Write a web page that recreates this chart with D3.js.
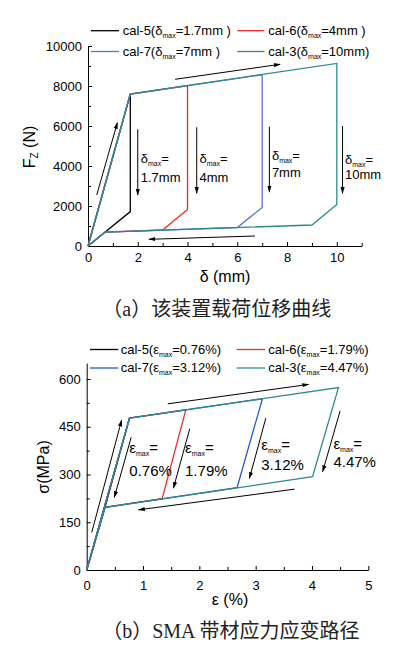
<!DOCTYPE html>
<html>
<head>
<meta charset="utf-8">
<script src="https://cdn.jsdelivr.net/npm/d3@7"></script>
<style>
body { margin: 0; background: #fff; }
svg { display: block; font-family: "Liberation Sans", Arial, sans-serif; }
</style>
</head>
<body>
<div id="chart"></div>
<script>
// ---------- data ----------
var seriesNames = ["cal-5", "cal-6", "cal-7", "cal-3"];
var topColors = ["#000000", "#ee2a2a", "#5577c6", "#2e8a8a"];
var botColors = ["#000000", "#ee2a2a", "#2a55c4", "#2e8a8a"];

// (a) load vs displacement : [delta (mm), Fz (N)]
var topCal5 = [[0, 0], [1.7, 7600], [1.7, 1720], [0.68, 690], [0, 0]];
var topCal6 = [[0, 0], [1.7, 7600], [4, 8020], [4, 1830], [3.0, 800], [0.68, 690], [0, 0]];
var topCal7 = [[0, 0], [1.7, 7600], [7, 8560], [7, 1930], [6.0, 925], [0.68, 690], [0, 0]];
var topCal3 = [[0, 0], [1.7, 7600], [10, 9130], [10, 2080], [9.0, 1050], [0.68, 690], [0, 0]];
var topLegendTail = ["=1.7mm )", "=4mm )", "=7mm )", "=10mm)"];
var topNoteValues = ["1.7mm", "4mm", "7mm", "10mm"];

// (b) SMA stress vs strain : [strain (%), stress (MPa)]
var botCal5 = [[0, 0], [0.76, 477], [0.325, 197], [0, 0]];
var botCal6 = [[0, 0], [0.76, 477], [1.76, 503], [1.34, 224], [0.325, 197], [0, 0]];
var botCal7 = [[0, 0], [0.76, 477], [3.12, 538], [2.67, 259], [0.325, 197], [0, 0]];
var botCal3 = [[0, 0], [0.76, 477], [4.47, 573], [4.01, 293], [0.325, 197], [0, 0]];
var botLegendTail = ["=0.76%)", "=1.79%)", "=3.12%)", "=4.47%)"];
var botNoteValues = ["0.76%", "1.79%", "3.12%", "4.47%"];

// ticks
var topXTicks = [0, 2, 4, 6, 8, 10], topXMinor = [1, 3, 5, 7, 9, 11];
var topYTicks = [0, 2000, 4000, 6000, 8000, 10000], topYMinor = [1000, 3000, 5000, 7000, 9000];
var botXTicks = [0, 1, 2, 3, 4, 5], botXMinor = [0.5, 1.5, 2.5, 3.5, 4.5];
var botYTicks = [0, 150, 300, 450, 600], botYMinor = [75, 225, 375, 525];

// annotation arrows [x1, y1, x2, y2] in data units, and note anchors [x, ySymbol, yValue]
var topArrows = [[0.35, 2550, 1.18, 6165], [3.5, 8335, 7.72, 9085], [6.71, 500, 2.45, 335],
  [2.0, 5835, 2.0, 2550], [4.37, 5935, 4.37, 2635], [7.29, 5965, 7.29, 2700], [10.23, 6000, 10.23, 2635]];
var topNoteAnchors = [[2.12, 4165, 3215], [4.48, 4165, 3215], [7.39, 4300, 3465], [10.33, 4100, 3335]];
var botArrows = [[0.09, 118, 0.62, 471], [0.79, 417, 0.49, 228], [1.83, 444, 1.54, 257],
  [3.18, 477, 2.89, 288], [4.50, 500, 4.19, 309], [1.44, 522, 3.94, 583], [3.69, 254, 0.92, 189]];
var botNoteAnchors = [[0.757, 366, 296], [1.746, 366, 296], [3.10, 377, 314], [4.38, 380, 324]];

// ---------- drawing ----------
var svg = d3.select("#chart").append("svg")
  .attr("width", 415)
  .attr("height", 653);

svg.append("defs").append("marker")
  .attr("id", "ah")
  .attr("viewBox", "0 0 10 10")
  .attr("refX", 9).attr("refY", 5)
  .attr("markerWidth", 7).attr("markerHeight", 7)
  .attr("orient", "auto")
  .append("path")
  .attr("d", "M0,2L10,5L0,8z")
  .attr("fill", "#000");

// text with a small "max" subscript
function subText(sel, pre, sub, post, size, subSize, shift) {
  sel.append("tspan").text(pre).style("font-size", size + "px");
  sel.append("tspan").text(sub).style("font-size", subSize + "px").attr("dy", shift);
  sel.append("tspan").text(post).style("font-size", size + "px").attr("dy", -shift);
}

function drawPanel(cfg) {
  var x = d3.scaleLinear().domain(cfg.xDomain).range(cfg.xRange);
  var y = d3.scaleLinear().domain(cfg.yDomain).range(cfg.yRange);
  var g = svg.append("g");
  var fmt = d3.format("d");

  // axes (ticks point inward, Origin style)
  var xMin = g.append("g").attr("transform", "translate(0," + cfg.yRange[0] + ")")
    .call(d3.axisBottom(x).tickValues(cfg.xMinor).tickSizeInner(-3).tickSizeOuter(0).tickFormat(""));
  var yMin = g.append("g").attr("transform", "translate(" + cfg.xRange[0] + ",0)")
    .call(d3.axisLeft(y).tickValues(cfg.yMinor).tickSizeInner(-3).tickSizeOuter(0).tickFormat(""));
  xMin.select(".domain").remove();
  yMin.select(".domain").remove();

  var xAx = g.append("g").attr("transform", "translate(0," + cfg.yRange[0] + ")")
    .call(d3.axisBottom(x).tickValues(cfg.xTicks).tickFormat(fmt)
      .tickSizeInner(-4).tickSizeOuter(0).tickPadding(cfg.xPad));
  var yAx = g.append("g").attr("transform", "translate(" + cfg.xRange[0] + ",0)")
    .call(d3.axisLeft(y).tickValues(cfg.yTicks).tickFormat(fmt)
      .tickSizeInner(-4).tickSizeOuter(0).tickPadding(6));
  g.selectAll(".tick line, .domain").attr("stroke", "#000").attr("stroke-width", 1);
  [xAx, yAx, xMin, yMin].forEach(function(a) { a.attr("font-family", null).attr("font-size", null); });
  g.selectAll(".tick text").style("font-size", "13px").attr("fill", "#000");

  // series
  var line = d3.line().x(function(d) { return x(d[0]); }).y(function(d) { return y(d[1]); });
  cfg.series.forEach(function(s, i) {
    g.append("path").datum(s)
      .attr("d", line)
      .attr("fill", "none")
      .attr("stroke", cfg.colors[i])
      .attr("stroke-width", 1.3)
      .attr("stroke-linejoin", "miter");
  });

  // arrows
  g.selectAll(".arrow").data(cfg.arrows).enter().append("line")
    .attr("class", "arrow")
    .attr("x1", function(d) { return x(d[0]); })
    .attr("y1", function(d) { return y(d[1]); })
    .attr("x2", function(d) { return x(d[2]); })
    .attr("y2", function(d) { return y(d[3]); })
    .attr("stroke", "#000")
    .attr("stroke-width", 1)
    .attr("marker-end", "url(#ah)");

  // in-plot notes
  cfg.notes.forEach(function(n, i) {
    var t = g.append("text").attr("x", x(n[0])).attr("y", y(n[1])).attr("fill", "#000")
      .style("font-family", cfg.noteFont);
    subText(t, cfg.symbol, "max", "=", cfg.noteSize, 7, 3);
    g.append("text").attr("x", x(n[0])).attr("y", y(n[2])).attr("fill", "#000")
      .style("font-family", cfg.noteFont)
      .style("font-size", cfg.noteSize + "px")
      .text(cfg.noteValues[i]);
  });

  // legend
  seriesNames.forEach(function(name, i) {
    var col = i % 2, row = Math.floor(i / 2);
    var lx = cfg.legendX[col], ly = cfg.legendY[row];
    g.append("line")
      .attr("x1", lx[0]).attr("x2", lx[1])
      .attr("y1", ly - 4).attr("y2", ly - 4)
      .attr("stroke", cfg.colors[i]).attr("stroke-width", 1.3);
    var t = g.append("text").attr("x", lx[2]).attr("y", ly).attr("fill", "#000");
    subText(t, name + "(" + cfg.symbol, "max", cfg.legendTail[i], 13, 7, 3);
  });

  // axis titles
  g.append("text")
    .attr("x", cfg.xTitle[0]).attr("y", cfg.xTitle[1])
    .attr("text-anchor", "middle")
    .style("font-size", "16px")
    .text(cfg.xLabel);
  var yt = g.append("text")
    .attr("transform", "translate(" + cfg.yTitle[0] + "," + cfg.yTitle[1] + ") rotate(-90)")
    .attr("text-anchor", "middle")
    .style("font-size", "16px");
  cfg.yLabel(yt);

  // caption
  svg.append("text")
    .attr("x", cfg.caption[0]).attr("y", cfg.caption[1])
    .attr("text-anchor", "middle")
    .style("font-family", "'Liberation Serif', 'Noto Sans CJK SC', serif")
    .style("font-size", "20px")
    .attr("fill", "#222")
    .text(cfg.captionText);
}

drawPanel({
  xDomain: [0, 11], xRange: [88, 361.7],
  yDomain: [0, 10000], yRange: [246, 46],
  xTicks: topXTicks, xMinor: topXMinor, yTicks: topYTicks, yMinor: topYMinor, xPad: 7,
  series: [topCal5, topCal6, topCal7, topCal3], colors: topColors,
  arrows: topArrows, notes: topNoteAnchors, noteValues: topNoteValues,
  symbol: "δ", noteSize: 13, noteFont: "'Liberation Sans', Arial, sans-serif",
  legendTail: topLegendTail, legendX: [[91, 119, 122.7], [237.3, 264.3, 268.3]], legendY: [34.7, 55.5],
  xLabel: "δ (mm)", xTitle: [225, 282],
  yLabel: function(t) {
    t.append("tspan").text("F");
    t.append("tspan").text("Z").style("font-size", "10px").attr("dy", 3);
    t.append("tspan").text(" (N)").attr("dy", -3);
  },
  yTitle: [35, 147],
  caption: [216.7, 316], captionText: "（a）该装置载荷位移曲线"
});

drawPanel({
  xDomain: [0, 5], xRange: [86.7, 368.3],
  yDomain: [0, 650], yRange: [570, 363.1],
  xTicks: botXTicks, xMinor: botXMinor, yTicks: botYTicks, yMinor: botYMinor, xPad: 11,
  series: [botCal5, botCal6, botCal7, botCal3], colors: botColors,
  arrows: botArrows, notes: botNoteAnchors, noteValues: botNoteValues,
  symbol: "ε", noteSize: 15, noteFont: "'Liberation Sans Narrow', 'Liberation Sans', Arial, sans-serif",
  legendTail: botLegendTail, legendX: [[90, 118.3, 120.7], [236.7, 265, 268.3]], legendY: [353.5, 372],
  xLabel: "ε (%)", xTitle: [230, 605],
  yLabel: function(t) { t.text("σ(MPa)"); },
  yTitle: [49, 467],
  caption: [230.8, 638], captionText: "（b）SMA 带材应力应变路径"
});
</script>
</body>
</html>
